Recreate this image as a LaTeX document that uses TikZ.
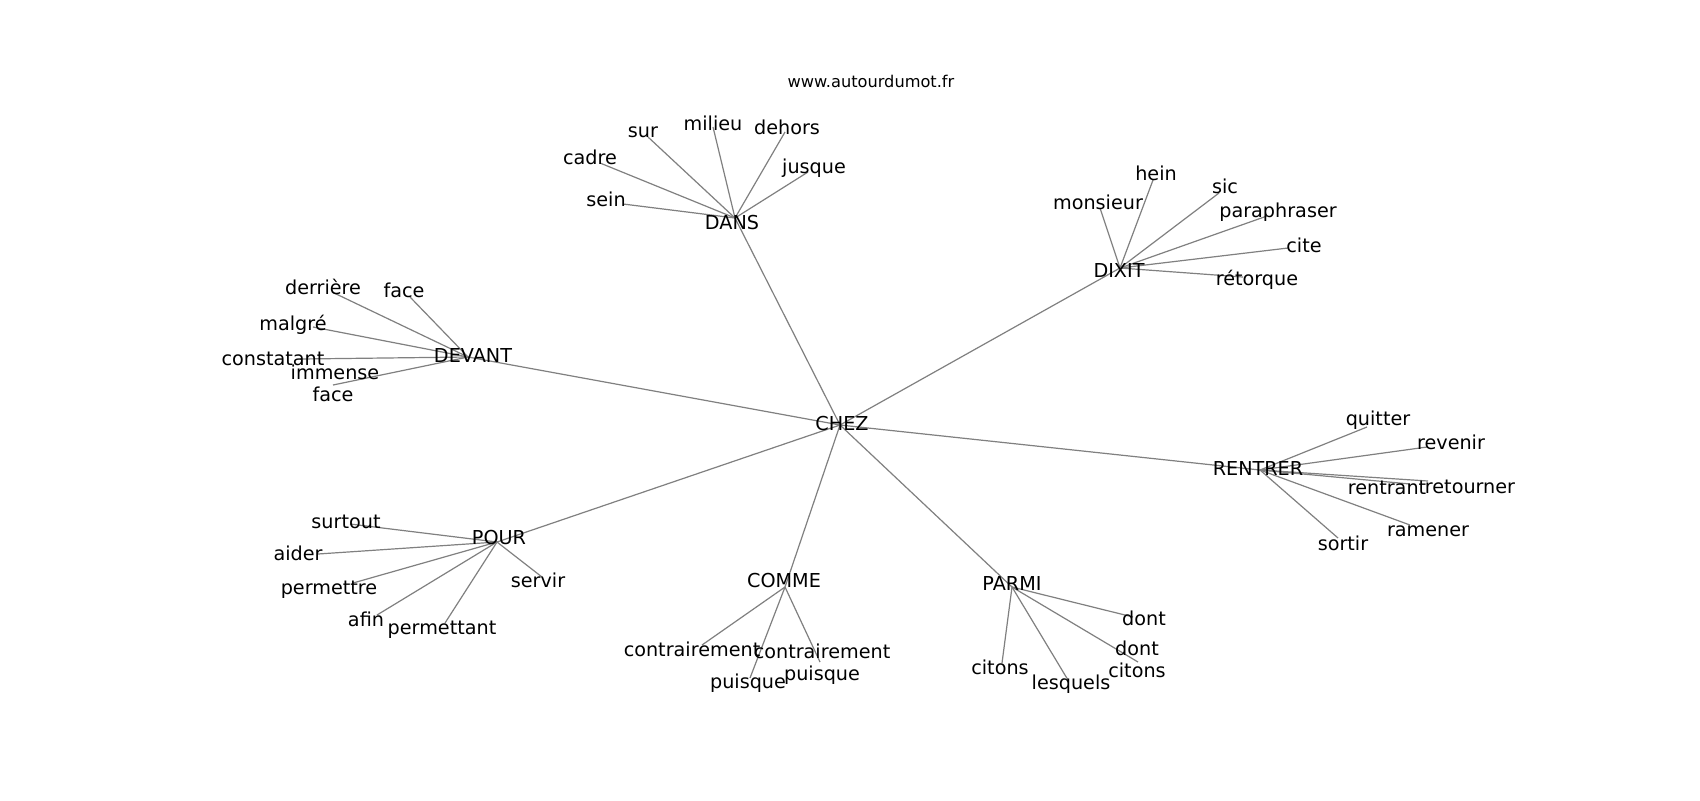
\documentclass[tikz,border=0pt]{standalone}
\usepackage{fontspec}
\setmainfont{DejaVu Sans}
\begin{document}
\begin{tikzpicture}[x=0.5pt,y=-0.5pt,
  lbl/.style={font=\fontsize{9.6}{11}\selectfont, inner sep=0pt, text height=6pt, text depth=0pt, anchor=center},
  ttl/.style={font=\fontsize{8.1}{10}\selectfont, inner sep=0pt, text height=5pt, text depth=0pt, anchor=center},
  edge/.style={draw=black!50, line width=0.6pt}]
\useasboundingbox[fill=white] (0,0) rectangle (1700,800);

% hubs
\coordinate (hCHEZ) at (840,425);
\coordinate (hDANS) at (735,218);
\coordinate (hDIXIT) at (1120,268);
\coordinate (hDEVANT) at (468,357);
\coordinate (hRENTRER) at (1260,470);
\coordinate (hPOUR) at (497,542);
\coordinate (hCOMME) at (785,587);
\coordinate (hPARMI) at (1012,587);

% leaf end points
\coordinate (eSein) at (623,204);
\coordinate (eCadre) at (600,163);
\coordinate (eSur) at (648,137);
\coordinate (eMilieu) at (713,127);
\coordinate (eDehors) at (785,132);
\coordinate (eJusque) at (808,172);

\coordinate (eMonsieur) at (1100,208);
\coordinate (eHein) at (1153,180);
\coordinate (eSic) at (1219,193);
\coordinate (ePara) at (1267,216);
\coordinate (eCite) at (1288,248);
\coordinate (eRetorque) at (1243,277);

\coordinate (eDerriere) at (332,292);
\coordinate (eFaceA) at (410,297);
\coordinate (eMalgre) at (313,327);
\coordinate (eConstatant) at (300,359);
\coordinate (eImmense) at (333,385);

\coordinate (eQuitter) at (1367,427);
\coordinate (eRevenir) at (1427,447);
\coordinate (eRentrant) at (1410,484);
\coordinate (eRetourner) at (1428,481);
\coordinate (eRamener) at (1410,525);
\coordinate (eSortir) at (1338,538);

\coordinate (eSurtout) at (350,524);
\coordinate (eAider) at (318,554);
\coordinate (ePermettre) at (353,583);
\coordinate (eAfin) at (377,615);
\coordinate (ePermettant) at (445,623);
\coordinate (eServir) at (542,577);

\coordinate (eContrA) at (702,645);
\coordinate (ePuisqueA) at (750,678);
\coordinate (eContrB) at (820,662);

\coordinate (eDontA) at (1133,617);
\coordinate (eDontB) at (1138,662);
\coordinate (eCitonsA) at (1002,663);
\coordinate (eLesquels) at (1068,680);

% edges
\foreach \h in {hDANS,hDIXIT,hDEVANT,hRENTRER,hPOUR,hCOMME,hPARMI}
  \draw[edge] (hCHEZ) -- (\h);
\foreach \e in {eSein,eCadre,eSur,eMilieu,eDehors,eJusque}
  \draw[edge] (hDANS) -- (\e);
\foreach \e in {eMonsieur,eHein,eSic,ePara,eCite,eRetorque}
  \draw[edge] (hDIXIT) -- (\e);
\foreach \e in {eDerriere,eFaceA,eMalgre,eConstatant,eImmense}
  \draw[edge] (hDEVANT) -- (\e);
\foreach \e in {eQuitter,eRevenir,eRentrant,eRetourner,eRamener,eSortir}
  \draw[edge] (hRENTRER) -- (\e);
\foreach \e in {eSurtout,eAider,ePermettre,eAfin,ePermettant,eServir}
  \draw[edge] (hPOUR) -- (\e);
\foreach \e in {eContrA,ePuisqueA,eContrB}
  \draw[edge] (hCOMME) -- (\e);
\foreach \e in {eDontA,eDontB,eCitonsA,eLesquels}
  \draw[edge] (hPARMI) -- (\e);

% title
\node[ttl] (title) at (871,82) {www.autourdumot.fr};

% labels
\node[lbl] (tCHEZ) at (842,424) {CHEZ};
\node[lbl] (tDANS) at (732,223) {DANS};
\node[lbl] (tDIXIT) at (1119,271) {DIXIT};
\node[lbl] (tDEVANT) at (473,356) {DEVANT};
\node[lbl] (tRENTRER) at (1258,469) {RENTRER};
\node[lbl] (tPOUR) at (499,538) {POUR};
\node[lbl] (tCOMME) at (784,581) {COMME};
\node[lbl] (tPARMI) at (1012,584) {PARMI};

\node[lbl] (tSein) at (606,200) {sein};
\node[lbl] (tCadre) at (590,158) {cadre};
\node[lbl] (tSur) at (643,131) {sur};
\node[lbl] (tMilieu) at (713,124) {milieu};
\node[lbl] (tDehors) at (787,128) {dehors};
\node[lbl] (tJusque) at (814,167) {jusque};

\node[lbl] (tMonsieur) at (1098,203) {monsieur};
\node[lbl] (tHein) at (1156,174) {hein};
\node[lbl] (tSic) at (1225,187) {sic};
\node[lbl] (tPara) at (1278,211) {paraphraser};
\node[lbl] (tCite) at (1304,246) {cite};
\node[lbl] (tRetorque) at (1257,279) {rétorque};

\node[lbl] (tDerriere) at (323,288) {derrière};
\node[lbl] (tFaceA) at (404,291) {face};
\node[lbl] (tMalgre) at (293,324) {malgré};
\node[lbl] (tConstatant) at (273,359) {constatant};
\node[lbl] (tImmense) at (335,373) {immense};
\node[lbl] (tFaceB) at (333,395) {face};

\node[lbl] (tQuitter) at (1378,419) {quitter};
\node[lbl] (tRevenir) at (1451,443) {revenir};
\node[lbl] (tRentrant) at (1387,488) {rentrant};
\node[lbl] (tRetourner) at (1470,487) {retourner};
\node[lbl] (tRamener) at (1428,530) {ramener};
\node[lbl] (tSortir) at (1343,544) {sortir};

\node[lbl] (tSurtout) at (346,522) {surtout};
\node[lbl] (tAider) at (298,554) {aider};
\node[lbl] (tPermettre) at (329,588) {permettre};
\node[lbl] (tAfin) at (366,620) {afin};
\node[lbl] (tPermettant) at (442,628) {permettant};
\node[lbl] (tServir) at (538,581) {servir};

\node[lbl] (tContrA) at (692,650) {contrairement};
\node[lbl] (tPuisqueA) at (748,682) {puisque};
\node[lbl] (tContrB) at (822,652) {contrairement};
\node[lbl] (tPuisqueB) at (822,674) {puisque};

\node[lbl] (tDontA) at (1144,619) {dont};
\node[lbl] (tDontB) at (1137,649) {dont};
\node[lbl] (tCitonsB) at (1137,671) {citons};
\node[lbl] (tCitonsA) at (1000,668) {citons};
\node[lbl] (tLesquels) at (1071,683) {lesquels};
\end{tikzpicture}
\end{document}
